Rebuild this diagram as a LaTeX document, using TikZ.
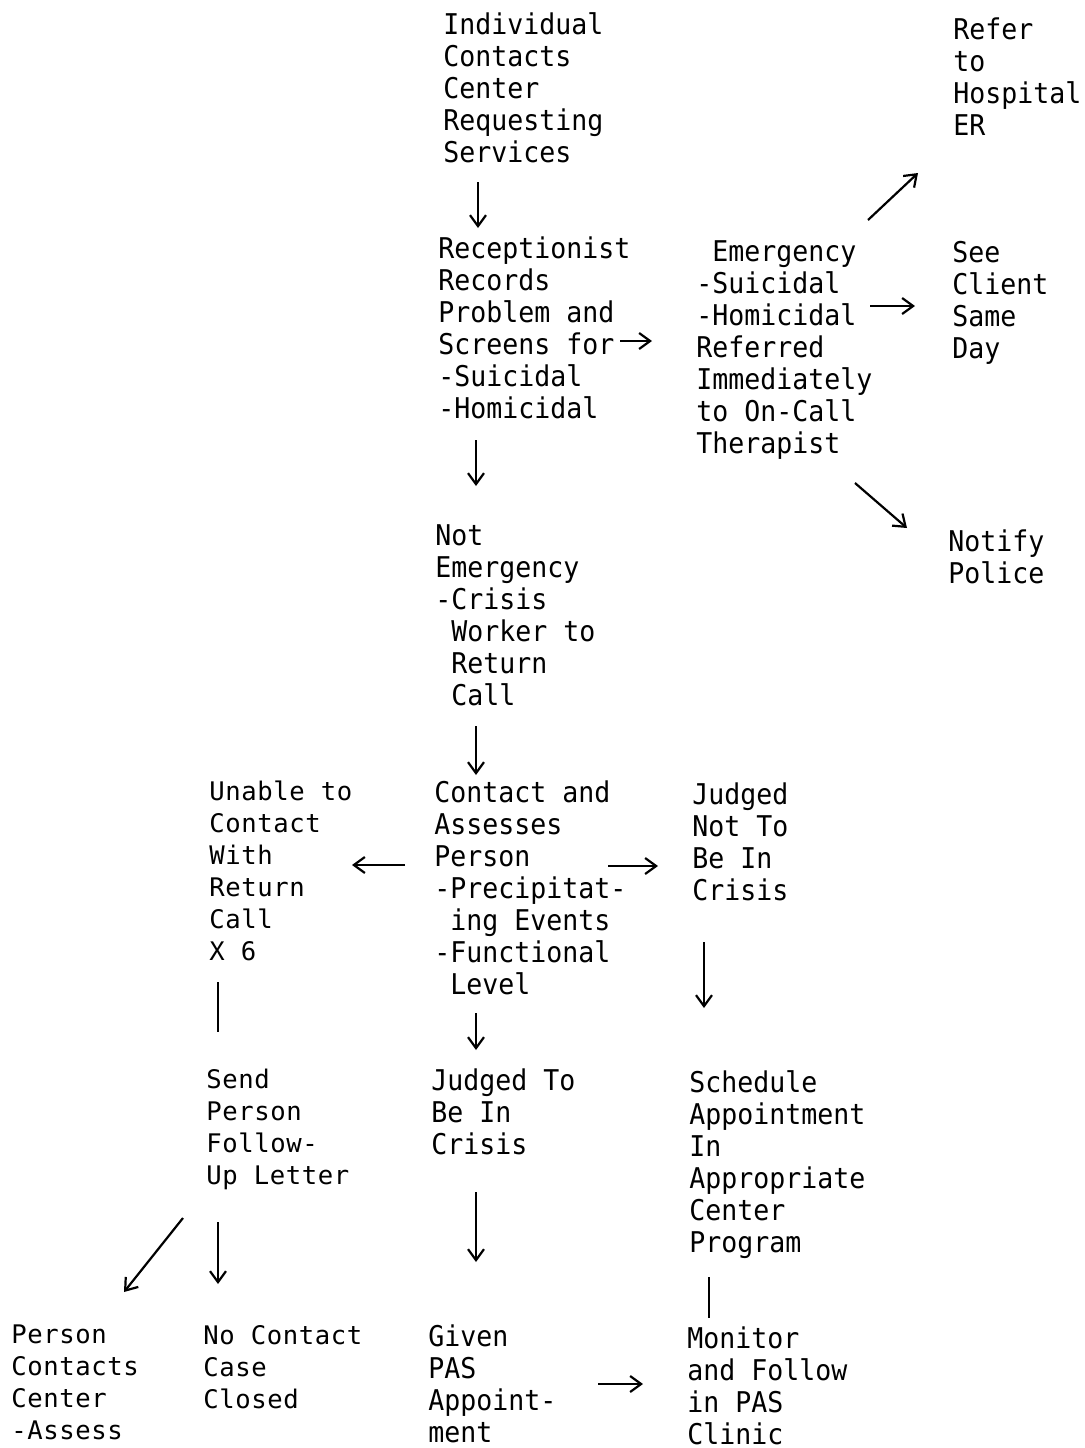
\documentclass[tikz,border=0pt]{standalone}
\usepackage{fontspec}
\usetikzlibrary{arrows.meta}
\newfontfamily\typeA[FakeStretch=0.93]{DejaVu Sans Mono}
\newfontfamily\typeB[LetterSpace=2.3]{DejaVu Sans Mono}
\newcommand{\indentch}{\phantom{x}}
% a block of typed lines whose baseline is that of its first line
\newcommand{\typed}[1]{\begin{tabular}[t]{@{}l@{}}#1\end{tabular}}
\begin{document}
\begin{tikzpicture}[x=0.5pt,y=-0.5pt,
  txt/.style={anchor=base west,inner sep=0pt,
    font=\typeA\fontsize{14.29}{16}\selectfont},
  txtb/.style={anchor=base west,inner sep=0pt,
    font=\typeB\fontsize{12.8}{16}\selectfont},
  arr/.style={line width=1.1pt,-{Straight Barb[length=5.5pt,width=8pt]}},
  bar/.style={line width=1.3pt}]
\useasboundingbox[fill=white] (0,0) rectangle (1084,1448);

% steps of the flow
\node[txt] (ind) at (443,34) {\typed{Individual\\Contacts\\Center\\Requesting\\Services}};
\node[txt] (refer) at (953,39) {\typed{Refer\\to\\Hospital\\ER}};
\node[txt] (rec) at (438,258) {\typed{Receptionist\\Records\\Problem and\\Screens for\\-Suicidal\\-Homicidal}};
\node[txt] (emer) at (696,261) {\typed{\indentch Emergency\\-Suicidal\\-Homicidal\\Referred\\Immediately\\to On-Call\\Therapist}};
\node[txt] (see) at (952,262) {\typed{See\\Client\\Same\\Day}};
\node[txt] (notify) at (948,551) {\typed{Notify\\Police}};
\node[txt] (notem) at (435,545) {\typed{Not\\Emergency\\-Crisis\\\indentch Worker to\\\indentch Return\\\indentch Call}};
\node[txtb] (unable) at (209,800) {\typed{Unable to\\Contact\\With\\Return\\Call\\X 6}};
\node[txt] (contact) at (434,802) {\typed{Contact and\\Assesses\\Person\\-Precipitat-\\\indentch ing Events\\-Functional\\\indentch Level}};
\node[txt] (jnot) at (692,804) {\typed{Judged\\Not To\\Be In\\Crisis}};
\node[txtb] (send) at (206,1088) {\typed{Send\\Person\\Follow-\\Up Letter}};
\node[txt] (jto) at (431,1090) {\typed{Judged To\\Be In\\Crisis}};
\node[txt] (sched) at (689,1092) {\typed{Schedule\\Appointment\\In\\Appropriate\\Center\\Program}};
\node[txtb] (pcc) at (11,1343) {\typed{Person\\Contacts\\Center\\-Assess}};
\node[txtb] (noc) at (203,1344) {\typed{No Contact\\Case\\Closed}};
\node[txt] (given) at (428,1346) {\typed{Given\\PAS\\Appoint-\\ment}};
\node[txt] (monitor) at (687,1348) {\typed{Monitor\\and Follow\\in PAS\\Clinic}};

% connectors
\draw[arr] ([shift={(35,148)}]ind.base west) -- ([shift={(40,-30)}]rec.base west);
\draw[arr] ([shift={(182,83)}]rec.base west) -- ([shift={(-44,80)}]emer.base west);
\draw[arr] ([shift={(172,-41)}]emer.base west) -- ([shift={(-35,134)}]refer.base west);
\draw[arr] ([shift={(174,45)}]emer.base west) -- ([shift={(-37,44)}]see.base west);
\draw[arr] ([shift={(159,222)}]emer.base west) -- ([shift={(-41,-23)}]notify.base west);
\draw[arr] ([shift={(38,182)}]rec.base west) -- ([shift={(41,-59)}]notem.base west);
\draw[arr] ([shift={(41,181)}]notem.base west) -- ([shift={(42,-27)}]contact.base west);
\draw[arr] ([shift={(-29,63)}]contact.base west) -- ([shift={(143,65)}]unable.base west);
\draw[arr] ([shift={(174,64)}]contact.base west) -- ([shift={(-34,62)}]jnot.base west);
\draw[arr] ([shift={(42,211)}]contact.base west) -- ([shift={(45,-40)}]jto.base west);
\draw[arr] ([shift={(12,138)}]jnot.base west) -- ([shift={(15,-84)}]sched.base west);
\draw[bar] ([shift={(9,182)}]unable.base west) -- ([shift={(12,-56)}]send.base west);
\draw[arr] ([shift={(-23,130)}]send.base west) -- ([shift={(113,-51)}]pcc.base west);
\draw[arr] ([shift={(12,134)}]send.base west) -- ([shift={(15,-60)}]noc.base west);
\draw[arr] ([shift={(45,102)}]jto.base west) -- ([shift={(48,-84)}]given.base west);
\draw[bar] ([shift={(20,185)}]sched.base west) -- ([shift={(22,-30)}]monitor.base west);
\draw[arr] ([shift={(170,38)}]given.base west) -- ([shift={(-44,36)}]monitor.base west);
\end{tikzpicture}
\end{document}
